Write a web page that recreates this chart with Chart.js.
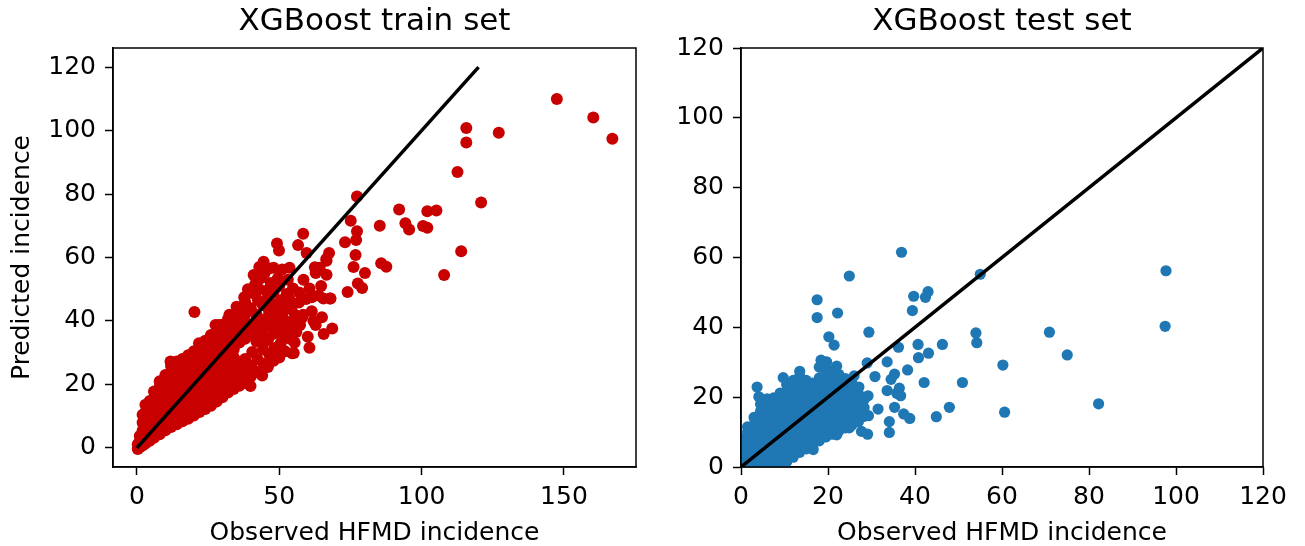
<!DOCTYPE html>
<html>
<head>
<meta charset="utf-8">
<script src="https://cdn.jsdelivr.net/npm/chart.js@4.4.0/dist/chart.umd.min.js"></script>
<style>
  html, body { margin: 0; padding: 0; background: #fff; }
  #wrap { position: relative; width: 1305px; height: 546px; }
  .panel { position: absolute; top: 0; }
</style>
</head>
<body>
<div id="wrap">
  <div class="panel" style="left:0;width:650px;height:546px"><canvas id="trainChart" width="650" height="546"></canvas></div>
  <div class="panel" style="left:650px;width:655px;height:546px"><canvas id="testChart" width="655" height="546"></canvas></div>
</div>
<script>
// ---- tick labels ----
const trainXTicks = [0, 50, 100, 150];
const trainYTicks = [0, 20, 40, 60, 80, 100, 120];
const testXTicks = [0, 20, 40, 60, 80, 100, 120];
const testYTicks = [0, 20, 40, 60, 80, 100, 120];

// ---- reference line (observed = predicted) ----
const diagonalX = [0, 120];
const diagonalY = [0, 120];

// ---- train set: dense core, grouped by observed value -> predicted values ----
const trainDense = [
  [0.3, [-0.3, 1.2]],
  [1.0, [0.2, 2.0, 3.8]],
  [2.0, [0.8, 3.0, 5.5, 8.0, 10.5]],
  [3.0, [1.4, 3.8, 6.3, 8.8, 11.2, 13.6]],
  [4.5, [2.3, 4.8, 7.3, 9.8, 12.3, 14.8]],
  [6.0, [3.2, 5.7, 8.2, 10.7, 13.2, 15.7, 17.8]],
  [8.0, [4.3, 6.8, 9.3, 11.8, 14.3, 16.8, 19.3, 21.0]],
  [10.0, [5.6, 8.1, 10.6, 13.1, 15.6, 18.1, 20.6, 23.0]],
  [12.0, [6.6, 9.1, 11.6, 14.1, 16.6, 19.1, 21.6, 24.1, 25.8]],
  [14.0, [7.5, 10.0, 12.5, 15.0, 17.5, 20.0, 22.5, 25.0, 27.2]],
  [16.0, [8.4, 10.9, 13.4, 15.9, 18.4, 20.9, 23.4, 25.9, 28.0]],
  [18.0, [9.2, 11.7, 14.2, 16.7, 19.2, 21.7, 24.2, 26.7, 29.2]],
  [20.0, [10.2, 12.7, 15.2, 17.7, 20.2, 22.7, 25.2, 27.7, 30.5]],
  [22.0, [11.3, 13.8, 16.3, 18.8, 21.3, 23.8, 26.3, 28.8, 31.3]],
  [24.0, [12.3, 14.8, 17.3, 19.8, 22.3, 24.8, 27.3, 29.8, 32.3, 33.8]],
  [26.0, [13.3, 15.8, 18.3, 20.8, 23.3, 25.8, 28.3, 30.8, 33.3, 35.6]],
  [28.0, [14.6, 17.1, 19.6, 22.1, 24.6, 27.1, 29.6, 32.1, 34.6, 37.0]],
  [30.0, [16.0, 18.5, 21.0, 23.5, 26.0, 28.5, 31.0, 33.5, 36.0, 38.8]],
  [32.0, [17.5, 20.0, 22.5, 25.0, 27.5, 30.0, 32.5, 35.0, 37.5, 40.6]],
  [34.0, [18.6, 21.1, 23.6, 26.1, 28.6, 31.1, 33.6, 36.1, 38.6, 41.0]],
  [36.0, [19.6, 22.1, 24.6, 27.1, 33.2, 35.7, 38.2, 40.7, 43.2]],
  [38.0, [20.5, 23.0, 25.5, 28.0, 34.4, 36.9, 39.4, 41.9, 44.4, 46.0]]
];

// ---- train set: scattered points [observed, predicted] ----
const trainSparse = [
  [11.8, 27.2], [13.0, 26.6], [20.2, 42.8], [21.8, 33.0], [27.6, 38.7], [28.8, 38.7], [32.5, 42.0],
  [35.0, 44.5], [37.7, 47.5], [39.9, 19.5], [39.0, 50.0], [41.0, 54.5], [43.0, 57.0],
  [40.0, 22.5], [40.2, 26.0], [40.5, 30.2], [40.0, 35.5], [40.3, 39.0], [40.0, 44.0], [40.5, 48.8], [41.5, 51.5],
  [42.0, 24.0], [42.3, 28.0], [42.0, 33.5], [42.2, 37.5], [42.0, 42.0], [42.5, 46.5], [43.0, 50.0], [43.5, 53.5],
  [44.0, 22.8], [44.5, 26.5], [44.3, 31.0], [44.0, 36.0], [44.6, 40.5], [44.2, 45.0], [44.5, 58.7], [44.8, 55.0],
  [43.0, 39.5], [45.0, 33.5], [45.5, 49.5], [47.0, 40.5], [47.5, 45.5], [49.0, 38.0], [49.5, 53.5],
  [46.0, 25.5], [46.5, 29.5], [46.2, 34.5], [46.0, 38.5], [46.4, 43.0], [46.0, 47.5], [47.0, 52.0], [46.5, 56.5],
  [48.0, 27.5], [48.3, 31.5], [48.0, 36.0], [48.5, 40.0], [48.2, 44.5], [48.0, 49.0], [48.0, 56.8], [49.2, 64.4], [49.9, 62.2],
  [50.0, 28.5], [50.5, 33.0], [50.2, 38.0], [50.0, 42.0], [50.6, 46.5], [50.0, 51.0], [51.0, 56.2],
  [51.0, 35.5], [51.5, 43.0], [53.0, 38.0], [53.5, 47.0], [55.5, 42.0], [57.0, 49.0],
  [52.0, 30.5], [52.5, 35.5], [52.2, 40.0], [52.0, 44.5], [52.6, 48.5], [53.0, 53.0], [53.6, 56.8],
  [54.5, 29.8], [54.0, 34.3], [54.5, 39.5], [54.2, 44.0], [54.8, 50.2], [55.1, 29.9], [55.4, 33.2],
  [56.0, 36.5], [56.6, 63.9], [56.9, 45.8], [57.3, 38.7], [58.0, 41.0], [58.4, 42.0], [58.4, 67.5], [58.5, 53.0],
  [59.4, 46.9], [59.6, 61.4], [60.0, 35.0], [60.6, 31.6], [60.6, 50.2], [61.4, 47.5], [61.4, 43.1], [62.0, 40.0],
  [62.5, 56.9], [62.8, 38.7], [62.8, 55.1], [63.8, 48.0], [64.2, 56.8], [64.7, 51.0], [65.0, 41.2], [65.5, 47.1],
  [65.6, 35.9], [66.5, 59.5], [66.6, 54.6], [66.6, 59.0], [67.5, 61.4], [67.8, 47.1], [68.0, 47.1], [68.6, 37.6],
  [73.1, 64.8], [74.0, 49.1], [75.1, 71.6], [76.1, 57.0], [76.8, 60.8], [77.0, 65.5], [77.3, 68.3], [77.3, 79.2],
  [77.6, 51.8], [79.1, 50.4], [80.1, 55.1], [85.3, 70.0], [85.8, 58.2], [87.6, 57.1], [92.1, 75.1], [94.3, 70.8],
  [95.6, 68.8], [100.5, 69.9], [102.0, 69.4], [102.0, 74.6], [105.2, 74.8], [107.9, 54.5], [112.6, 86.9],
  [113.9, 62.0], [115.7, 100.8], [115.7, 96.2], [120.9, 77.3], [127.1, 99.3], [147.5, 109.9], [160.3, 104.1], [167.0, 97.4]
];

// ---- test set: dense core, grouped by observed value -> predicted values ----
const testDense = [
  [0.3, [0.0, 2.0, 4.0, 6.0, 8.0]],
  [1.5, [0.0, 2.0, 4.0, 6.0, 8.0, 10.0, 11.5]],
  [3.0, [0.0, 2.0, 4.0, 6.0, 8.0, 10.0, 12.0, 14.2]],
  [4.5, [0.0, 2.0, 4.0, 6.0, 8.0, 10.0, 12.0, 14.0, 16.0, 18.0]],
  [6.0, [0.0, 2.0, 4.0, 6.0, 8.0, 10.0, 12.0, 14.0, 16.0, 18.0, 19.5]],
  [7.5, [0.0, 2.0, 4.0, 6.0, 8.0, 10.0, 12.0, 14.0, 16.0, 18.0, 19.8]],
  [9.0, [0.3, 2.2, 4.0, 6.0, 8.0, 10.0, 12.0, 14.0, 16.0, 18.0, 20.0, 21.2]],
  [10.5, [1.5, 3.5, 5.5, 7.5, 9.5, 11.5, 13.5, 15.5, 17.5, 19.5, 21.5, 23.6]],
  [12.0, [2.8, 4.8, 6.8, 8.8, 10.8, 12.8, 14.8, 16.8, 18.8, 20.8, 22.8, 24.8]],
  [13.5, [4.2, 6.2, 8.2, 10.2, 12.2, 14.2, 16.2, 18.2, 20.2, 22.2, 24.2, 26.0]],
  [15.0, [5.2, 7.2, 9.2, 11.2, 13.2, 15.2, 17.2, 19.2, 21.2, 23.2, 24.8]],
  [16.5, [6.3, 8.3, 10.3, 12.3, 14.3, 16.3, 18.3, 20.3, 22.3, 24.0]],
  [18.0, [7.5, 9.5, 11.5, 13.5, 15.5, 17.5, 19.5, 21.5, 23.5, 25.5, 28.6]],
  [19.5, [8.6, 10.6, 12.6, 14.6, 16.6, 18.6, 20.6, 22.6, 24.6, 26.8, 29.0]],
  [21.0, [9.4, 11.4, 13.4, 15.4, 17.4, 19.4, 21.4, 23.4, 25.6, 27.4]],
  [22.5, [10.4, 12.4, 14.4, 16.4, 18.4, 20.4, 22.4, 24.4, 26.5]],
  [24.0, [11.2, 13.2, 15.2, 17.2, 19.2, 21.2, 23.2, 25.3]],
  [25.5, [12.0, 14.0, 16.0, 18.0, 20.0, 22.0, 24.0]],
  [27.0, [13.0, 15.0, 17.0, 19.0, 21.0]],
  [28.3, [14.5, 17.0, 19.3]]
];

// ---- test set: scattered points [observed, predicted] ----
const testSparse = [
  [36.9, 61.5], [24.9, 54.7], [55.0, 55.2], [97.7, 56.2], [97.5, 40.3], [17.5, 47.9], [17.5, 42.8], [22.2, 44.1],
  [39.7, 48.9], [42.4, 48.6], [43.0, 50.2], [39.4, 44.8], [29.4, 38.6], [20.2, 37.3], [21.4, 34.9], [70.9, 38.6],
  [54.0, 38.4], [54.2, 35.6], [46.3, 35.1], [40.7, 35.1], [36.2, 34.3], [40.8, 31.3], [43.1, 32.6], [75.0, 32.1],
  [33.6, 30.1], [29.0, 29.8], [60.2, 29.2], [38.3, 27.8], [35.3, 26.6], [34.5, 25.1], [30.8, 25.9], [50.9, 24.2],
  [42.1, 24.2], [27.1, 22.9], [33.6, 21.9], [36.4, 22.6], [36.7, 20.4], [35.8, 21.1], [29.2, 20.4], [47.9, 17.1],
  [35.3, 17.1], [31.5, 16.6], [82.2, 18.1], [60.6, 15.7], [44.9, 14.4], [38.8, 13.9], [37.4, 15.2], [29.3, 14.7],
  [34.1, 13.0], [34.1, 9.9], [29.1, 9.4], [27.7, 10.2], [24.9, 11.2], [22.0, 9.2], [16.6, 5.0], [26.0, 26.1],
  [22.0, 28.9], [18.4, 30.6], [19.7, 30.1], [13.5, 27.4], [9.7, 25.6], [3.7, 22.9], [4.1, 20.1]
];

// juntar columnas densas y puntos sueltos en {x, y}
function toPoints(dense, sparse) {
  const pts = [];
  dense.forEach(([x, ys]) => ys.forEach(y => pts.push({ x: x, y: y })));
  sparse.forEach(([x, y]) => pts.push({ x: x, y: y }));
  return pts;
}
const diagonal = diagonalX.map((x, i) => ({ x: x, y: diagonalY[i] }));

Chart.defaults.font.family = "'DejaVu Sans', sans-serif";
Chart.defaults.color = '#000';

// marco negro alrededor del área (encima de los puntos, como en matplotlib)
const framePlugin = {
  id: 'frame',
  afterDatasetsDraw(chart) {
    const { ctx, chartArea: a } = chart;
    ctx.save();
    ctx.strokeStyle = '#000';
    ctx.lineWidth = 1.5;
    ctx.strokeRect(a.left, a.top, a.right - a.left, a.bottom - a.top);
    ctx.restore();
  }
};

function makeChart(id, p) {
  return new Chart(document.getElementById(id), {
    type: 'scatter',
    data: {
      datasets: [
        { data: diagonal, xAxisID: 'x', yAxisID: 'y', showLine: true, borderColor: '#000', borderWidth: 3.5, pointRadius: 0, fill: false },
        { data: p.points, xAxisID: 'x', yAxisID: 'y', backgroundColor: p.color, pointBorderWidth: 0, borderWidth: 0, pointRadius: p.radius, pointHoverRadius: p.radius }
      ]
    },
    options: {
      responsive: false,
      animation: false,
      events: [],
      layout: { padding: { left: 0, right: p.padRight, top: 0, bottom: 0 } },
      plugins: {
        legend: { display: false },
        tooltip: { enabled: false },
        title: { display: false }
      },
      scales: {
        x: {
          type: 'linear', position: 'bottom', min: p.xMin, max: p.xMax,
          afterBuildTicks: s => { s.ticks = p.xTicks.map(v => ({ value: v })); },
          afterFit: s => { s.height = 79; },
          grid: { drawOnChartArea: false, drawTicks: true, tickLength: 8, tickWidth: 1.5, tickColor: '#000' },
          border: { color: '#000', width: 1.5 },
          ticks: { color: '#000', font: { size: 25 }, padding: 7, maxRotation: 0, autoSkip: false },
          title: { display: true, text: 'Observed HFMD incidence', color: '#000', font: { size: 25 }, padding: { top: 0, bottom: -2 } }
        },
        y: {
          type: 'linear', position: 'left', min: p.yMin, max: p.yMax,
          afterBuildTicks: s => { s.ticks = p.yTicks.map(v => ({ value: v })); },
          afterFit: s => { s.width = p.yWidth; },
          grid: { drawOnChartArea: false, drawTicks: true, tickLength: 8, tickWidth: 1.5, tickColor: '#000' },
          border: { color: '#000', width: 1.5 },
          ticks: { color: '#000', font: { size: 25 }, padding: 9, autoSkip: false },
          title: { display: p.yTitle !== '', text: p.yTitle, color: '#000', font: { size: 25 }, padding: { top: 7, bottom: 0 } }
        },
        // eje superior vacío: sólo sirve para centrar el título sobre el área del gráfico
        topTitle: {
          type: 'linear', axis: 'x', position: 'top', min: 0, max: 1,
          afterFit: s => { s.height = 48; },
          grid: { display: false },
          border: { display: false },
          ticks: { display: false },
          title: { display: true, text: p.title, color: '#000', font: { size: 31 }, padding: { top: 3, bottom: 0 } }
        }
      }
    },
    plugins: [framePlugin]
  });
}

makeChart('trainChart', {
  title: 'XGBoost train set', yTitle: 'Predicted incidence',
  points: toPoints(trainDense, trainSparse), color: '#c80000', radius: 6.0,
  xMin: -8.4, xMax: 175.3, yMin: -6, yMax: 126,
  xTicks: trainXTicks, yTicks: trainYTicks, yWidth: 113, padRight: 14
});

makeChart('testChart', {
  title: 'XGBoost test set', yTitle: '',
  points: toPoints(testDense, testSparse), color: '#1f77b4', radius: 5.6,
  xMin: 0, xMax: 120, yMin: 0, yMax: 120,
  xTicks: testXTicks, yTicks: testYTicks, yWidth: 91, padRight: 42
});
</script>
</body>
</html>
